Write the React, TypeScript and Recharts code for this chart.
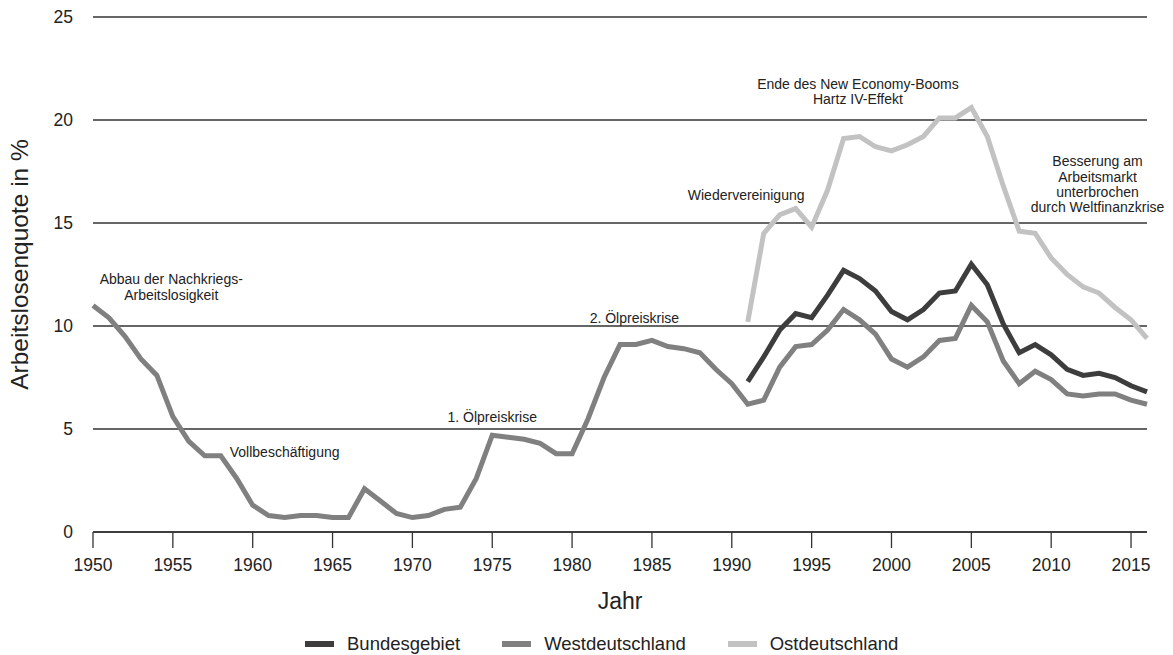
import { LineChart, Line, XAxis, YAxis, CartesianGrid, Legend, ReferenceDot } from "recharts"

const FONT = '"Liberation Sans", Arial, sans-serif'
const INK = "#222"

const years = [
  1950, 1951, 1952, 1953, 1954, 1955, 1956, 1957, 1958, 1959,
  1960, 1961, 1962, 1963, 1964, 1965, 1966, 1967, 1968, 1969,
  1970, 1971, 1972, 1973, 1974, 1975, 1976, 1977, 1978, 1979,
  1980, 1981, 1982, 1983, 1984, 1985, 1986, 1987, 1988, 1989,
  1990, 1991, 1992, 1993, 1994, 1995, 1996, 1997, 1998, 1999,
  2000, 2001, 2002, 2003, 2004, 2005, 2006, 2007, 2008, 2009,
  2010, 2011, 2012, 2013, 2014, 2015, 2016,
]

// Westdeutschland, 1950-2016
const westdeutschland = [
  11.0, 10.4, 9.5, 8.4, 7.6, 5.6, 4.4, 3.7, 3.7, 2.6,
  1.3, 0.8, 0.7, 0.8, 0.8, 0.7, 0.7, 2.1, 1.5, 0.9,
  0.7, 0.8, 1.1, 1.2, 2.6, 4.7, 4.6, 4.5, 4.3, 3.8,
  3.8, 5.5, 7.5, 9.1, 9.1, 9.3, 9.0, 8.9, 8.7, 7.9,
  7.2, 6.2, 6.4, 8.0, 9.0, 9.1, 9.8, 10.8, 10.3, 9.6,
  8.4, 8.0, 8.5, 9.3, 9.4, 11.0, 10.2, 8.3, 7.2, 7.8,
  7.4, 6.7, 6.6, 6.7, 6.7, 6.4, 6.2,
]

// Bundesgebiet und Ostdeutschland erst ab 1991
const firstUnifiedYear = 1991
const bundesgebiet = [
  7.3, 8.5, 9.8, 10.6, 10.4, 11.5, 12.7, 12.3, 11.7,
  10.7, 10.3, 10.8, 11.6, 11.7, 13.0, 12.0, 10.1, 8.7, 9.1,
  8.6, 7.9, 7.6, 7.7, 7.5, 7.1, 6.8,
]
const ostdeutschland = [
  10.2, 14.5, 15.4, 15.7, 14.8, 16.6, 19.1, 19.2, 18.7,
  18.5, 18.8, 19.2, 20.1, 20.1, 20.6, 19.2, 16.8, 14.6, 14.5,
  13.3, 12.5, 11.9, 11.6, 10.9, 10.3, 9.4,
]

const yearTicks = [1950, 1955, 1960, 1965, 1970, 1975, 1980, 1985, 1990, 1995, 2000, 2005, 2010, 2015]
const valueTicks = [0, 5, 10, 15, 20, 25]

const series = [
  { key: "Bundesgebiet", color: "#3d3d3d" },
  { key: "Westdeutschland", color: "#808080" },
  { key: "Ostdeutschland", color: "#c2c2c2" },
]

const notes = [
  { year: 1954.9, value: 12.27, lines: ["Abbau der Nachkriegs-", "Arbeitslosigkeit"], step: 16 },
  { year: 1962.0, value: 3.89, lines: ["Vollbeschäftigung"], step: 16 },
  { year: 1975.0, value: 5.59, lines: ["1. Ölpreiskrise"], step: 16 },
  { year: 1983.9, value: 10.39, lines: ["2. Ölpreiskrise"], step: 16 },
  { year: 1990.9, value: 16.35, lines: ["Wiedervereinigung"], step: 16 },
  { year: 1997.9, value: 21.74, lines: ["Ende des New Economy-Booms", "Hartz IV-Effekt"], step: 15 },
  {
    year: 2012.9,
    value: 18.0,
    lines: ["Besserung am", "Arbeitsmarkt", "unterbrochen", "durch Weltfinanzkrise"],
    step: 15.3,
  },
]

const data = years.map((year, i) => {
  const j = year - firstUnifiedYear
  return {
    year,
    Westdeutschland: westdeutschland[i],
    Bundesgebiet: j >= 0 ? bundesgebiet[j] : null,
    Ostdeutschland: j >= 0 ? ostdeutschland[j] : null,
  }
})

function noteLabel(lines: string[], step: number) {
  return (props: any) => {
    const vb = props.viewBox || {}
    const cx = vb.x + (vb.width || 0) / 2
    const cy = vb.y + (vb.height || 0) / 2
    return (
      <text x={cx} y={cy + 5} textAnchor="middle" fontFamily={FONT} fontSize={14} fill={INK}>
        {lines.map((line, i) => (
          <tspan key={i} x={cx} dy={i === 0 ? 0 : step}>
            {line}
          </tspan>
        ))}
      </text>
    )
  }
}

function ChartLegend() {
  return (
    <div
      style={{
        display: "flex",
        alignItems: "center",
        paddingLeft: 305,
        paddingTop: 13,
        height: 30,
        boxSizing: "border-box",
        fontFamily: FONT,
        fontSize: 18.5,
        color: INK,
      }}
    >
      {series.map((s) => (
        <div key={s.key} style={{ display: "flex", alignItems: "center", marginRight: 42 }}>
          <div style={{ width: 29, height: 6, background: s.color, marginRight: 13 }} />
          <span>{s.key}</span>
        </div>
      ))}
    </div>
  )
}

export default function App() {
  return (
    <div style={{ position: "absolute", left: 0, top: 0, background: "#fff" }}>
      <LineChart width={1173} height={655} data={data} margin={{ top: 17, right: 26, left: 0, bottom: 3 }}>
        <CartesianGrid vertical={false} stroke="#333" strokeWidth={1.3} />
        <XAxis
          dataKey="year"
          type="number"
          domain={[1950, 2016]}
          ticks={yearTicks}
          height={90}
          tickSize={16}
          tickMargin={11}
          stroke="#333"
          strokeWidth={1.3}
          tick={{ fill: INK, fontSize: 17.5, fontFamily: FONT }}
          label={{
            content: (p: any) => (
              <text
                x={p.viewBox.x + p.viewBox.width / 2}
                y={p.viewBox.y + 77}
                textAnchor="middle"
                fontFamily={FONT}
                fontSize={23}
                fill={INK}
              >
                Jahr
              </text>
            ),
          }}
        />
        <YAxis
          type="number"
          domain={[0, 25]}
          ticks={valueTicks}
          width={93}
          axisLine={false}
          tickLine={false}
          tickSize={0}
          tickMargin={20}
          tick={{ fill: INK, fontSize: 17.5, fontFamily: FONT }}
          label={{
            content: (p: any) => {
              const cy = p.viewBox.y + p.viewBox.height / 2 - 10
              return (
                <text
                  x={28}
                  y={cy}
                  transform={`rotate(-90, 28, ${cy})`}
                  textAnchor="middle"
                  fontFamily={FONT}
                  fontSize={24.5}
                  fill={INK}
                >
                  Arbeitslosenquote in %
                </text>
              )
            },
          }}
        />
        <Legend verticalAlign="bottom" height={30} content={() => <ChartLegend />} />
        <Line
          dataKey="Ostdeutschland"
          stroke="#c2c2c2"
          strokeWidth={5}
          dot={false}
          activeDot={false}
          isAnimationActive={false}
        />
        <Line
          dataKey="Westdeutschland"
          stroke="#808080"
          strokeWidth={5}
          dot={false}
          activeDot={false}
          isAnimationActive={false}
        />
        <Line
          dataKey="Bundesgebiet"
          stroke="#3d3d3d"
          strokeWidth={5}
          dot={false}
          activeDot={false}
          isAnimationActive={false}
        />
        {notes.map((n) => (
          <ReferenceDot
            key={n.lines[0]}
            x={n.year}
            y={n.value}
            r={0}
            fill="none"
            stroke="none"
            label={{ content: noteLabel(n.lines, n.step) }}
          />
        ))}
      </LineChart>
    </div>
  )
}
